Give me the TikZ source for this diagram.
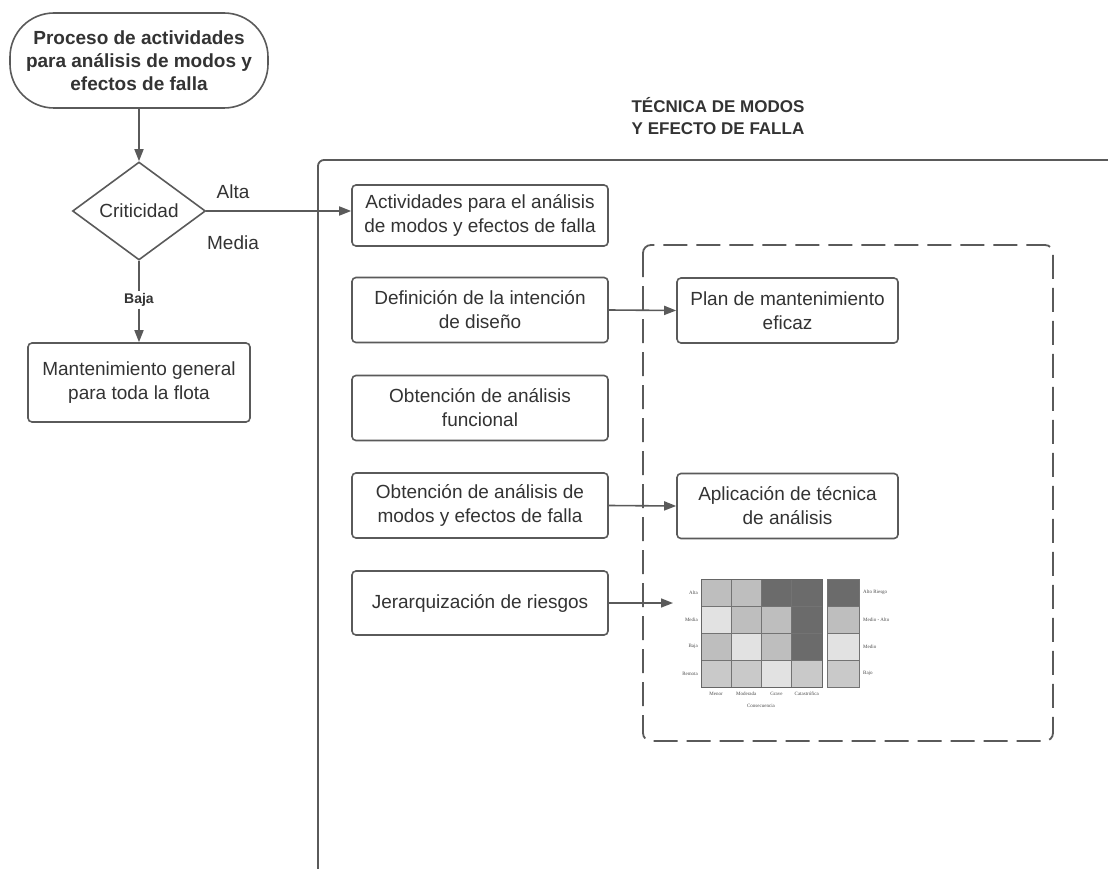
\documentclass[tikz,border=0pt]{standalone}
\usepackage{fontspec}
\setmainfont{Liberation Sans}
\newfontfamily\matfont{Liberation Serif}
\usepackage{xcolor}
\usetikzlibrary{arrows.meta,shapes.geometric,positioning,calc}

\definecolor{linegray}{HTML}{5A5A5A}
\definecolor{textgray}{HTML}{333333}
\definecolor{riskdark}{HTML}{6B6B6B}
\definecolor{riskmid}{HTML}{BEBEBE}
\definecolor{risklight}{HTML}{E2E2E2}
\definecolor{risklow}{HTML}{C9C9C9}

\begin{document}
\begin{tikzpicture}[
    x=1pt, y=-1pt,
    every node/.style={
        text=textgray,
        align=center,
        font=\fontsize{19}{24}\selectfont
    },
    box/.style={
        draw=linegray,
        line width=1.6pt,
        rounded corners=4pt,
        minimum width=256pt,
        minimum height=65pt,
        inner sep=2pt
    },
    flow/.style={draw=linegray, line width=1.6pt, -{Triangle[length=12pt,width=9pt]}},
    cell/.style={draw=black!55, line width=0.6pt},
    matlabel/.style={font=\matfont\fontsize{5}{6}\selectfont, text=black!70, inner sep=1pt}
]

\useasboundingbox[fill=white] (0,0) rectangle (1108,869);

% -------- Left flow --------
\node[draw=linegray, line width=1.6pt, rounded corners=44pt, minimum width=258pt,
      minimum height=95pt, font=\bfseries\fontsize{19}{23}\selectfont] (start) at (139,60.5)
    {Proceso de actividades\\para análisis de modos y\\efectos de falla};
\node[diamond, draw=linegray, line width=1.6pt, minimum width=133pt,
      minimum height=98pt, inner sep=0pt] (crit) at (139,211) {Criticidad};
\node[fill=white, inner sep=2pt, font=\bfseries\fontsize{14}{16}\selectfont] (baja) at (139,300) {Baja};
\node[box, minimum width=222pt, minimum height=79pt] (mant) at (139,382.5)
    {Mantenimiento general\\para toda la flota};

\node (alta) at (233,192) {Alta};
\node (media) at (233,243) {Media};

\draw[flow] (start.south) -- (crit.north);
\draw[linegray, line width=1.6pt] (crit.south) -- (baja.north);
\draw[flow] (baja.south) -- (mant.north);

% -------- Technique frame --------
\node[font=\bfseries\fontsize{17}{22}\selectfont] (title) at (718,116)
    {TÉCNICA DE MODOS\\Y EFECTO DE FALLA};
\draw[linegray, line width=1.8pt, rounded corners=6pt] (318,890) -- (318,160) -- (1130,160);
\draw[linegray, line width=1.8pt, rounded corners=8pt, dash pattern=on 24pt off 9pt]
    (643,245) rectangle (1053,741);

% -------- Activities --------
\node[box, minimum height=61pt] (act) at (480,215.5) {Actividades para el análisis\\de modos y efectos de falla};
\node[box] (defi) at (480,310) {Definición de la intención\\de diseño};
\node[box] (func) at (480,408) {Obtención de análisis\\funcional};
\node[box] (amef) at (480,505.5) {Obtención de análisis de\\modos y efectos de falla};
\node[box, minimum height=64pt] (jer) at (480,603) {Jerarquización de riesgos};

\node[box, minimum width=221pt] (plan) at (787.5,310.5) {Plan de mantenimiento\\eficaz};
\node[box, minimum width=221pt] (apli) at (787.5,506) {Aplicación de técnica\\de análisis};

\coordinate (mtx) at (673,603);

\draw[flow] (crit.east) -- (crit.east -| act.west);
\draw[flow] (defi.east) -- (plan.west);
\draw[flow] (amef.east) -- (apli.west);
\draw[flow] (jer.east) -- (mtx);

% -------- Risk matrix --------
\foreach \shade [count=\k from 0] in {mid,mid,dark,dark,light,mid,mid,dark,mid,light,mid,dark,low,low,light,low} {
    \pgfmathtruncatemacro{\col}{mod(\k,4)}
    \pgfmathtruncatemacro{\row}{div(\k,4)}
    \draw[cell, fill=risk\shade] ({701+30.25*\col},{579+27*\row}) rectangle +(30.25,27);
}
\draw[black!60, line width=0.8pt] (701,579) rectangle (822,687);
\foreach \shade [count=\k from 0] in {dark,mid,light,low}
    \draw[cell, fill=risk\shade] (827,{579+27*\k}) rectangle +(32,27);

\foreach \lbl [count=\k from 0] in {Alta,Media,Baja,Remota}
    \node[matlabel, anchor=east] (prob\k) at (699,{592.5+27*\k}) {\lbl};
\foreach \lbl [count=\k from 0] in {Menor,Moderada,Grave,Catastrófica}
    \node[matlabel] (cons\k) at ({716+30.25*\k},694) {\lbl};
\node[matlabel] (consec) at (761,706) {Consecuencia};
\foreach \lbl [count=\k from 0] in {Alto Riesgo,Medio - Alto,Medio,Bajo}
    \node[matlabel, anchor=west] (leg\k) at (862,{592.5+27*\k}) {\lbl};

\end{tikzpicture}
\end{document}
